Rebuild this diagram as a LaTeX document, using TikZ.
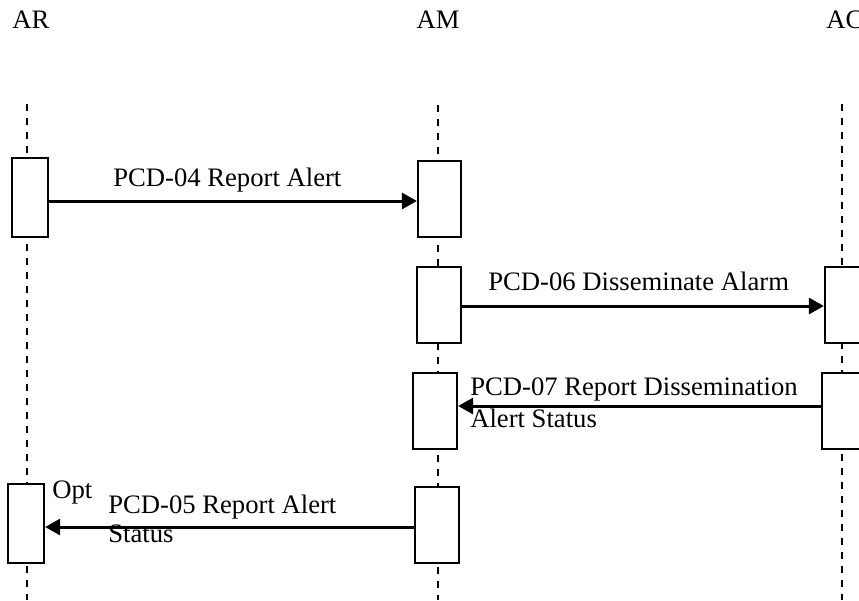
\documentclass[tikz,border=0pt]{standalone}
\usepackage{fontspec}
\setmainfont{Liberation Serif}
\usetikzlibrary{arrows.meta}
\begin{document}
\begin{tikzpicture}[x=0.75pt,y=-0.75pt,
  lbl/.style={font=\fontsize{20}{24}\selectfont, inner sep=0pt},
  life/.style={line width=1.7pt, dash pattern=on 5.6pt off 4.9pt},
  actbox/.style={draw, line width=1.7pt, fill=white, inner sep=0pt},
  msg/.style={line width=2.25pt, -{Triangle[length=11.25pt,width=12pt]}}]
\useasboundingbox (0,0) rectangle (859,600);
% actor names
\node[lbl, anchor=base] (AR) at (31,28) {AR};
\node[lbl, anchor=base] (AM) at (438,28) {AM};
\node[lbl, anchor=base west] (AC) at (826,28) {AC};
% lifelines
\coordinate (arTop) at (27,104);  \coordinate (arBot) at (27,600);
\coordinate (amTop) at (438,105); \coordinate (amBot) at (438,600);
\coordinate (acTop) at (842,104); \coordinate (acBot) at (842,600);
\draw[life] (arTop) -- (arBot);
\draw[life] (amTop) -- (amBot);
\draw[life] (acTop) -- (acBot);
% activation boxes
\node[actbox, minimum width=27pt, minimum height=59.25pt] (ar1) at (30,197.5) {};
\node[actbox, minimum width=32.25pt, minimum height=57pt] (am1) at (439.5,199) {};
\node[actbox, minimum width=33pt, minimum height=57pt] (am2) at (439,305) {};
\node[actbox, minimum width=32.25pt, minimum height=57pt] (ac2) at (846.5,305) {};
\node[actbox, minimum width=33pt, minimum height=57pt] (am3) at (435,411) {};
\node[actbox, minimum width=32.25pt, minimum height=57pt] (ac3) at (843.5,411) {};
\node[actbox, minimum width=27pt, minimum height=59.25pt] (ar4) at (26,523.5) {};
\node[actbox, minimum width=33pt, minimum height=57pt] (am4) at (437,525) {};
% messages
\draw[msg] (ar1.east |- 0,201) -- (am1.west |- 0,201);
\draw[msg] (am2.east |- 0,306) -- (ac2.west |- 0,306);
\draw[msg] (ac3.west |- 0,406) -- (am3.east |- 0,406);
\draw[msg] (am4.west |- 0,527) -- (ar4.east |- 0,527);
% labels
\node[lbl, anchor=base west] (m1) at (113,186) {PCD-04 Report Alert};
\node[lbl, anchor=base west] (m2) at (488,290) {PCD-06 Disseminate Alarm};
\node[lbl, anchor=base west, align=left] (m3) at (470,427) {PCD-07 Report Dissemination\\Alert Status};
\node[lbl, anchor=base west] (opt) at (52,498) {Opt};
\node[lbl, anchor=base west, align=left] (m4) at (108,542) {PCD-05 Report Alert\\[-2.25pt]Status};
\end{tikzpicture}
\end{document}
